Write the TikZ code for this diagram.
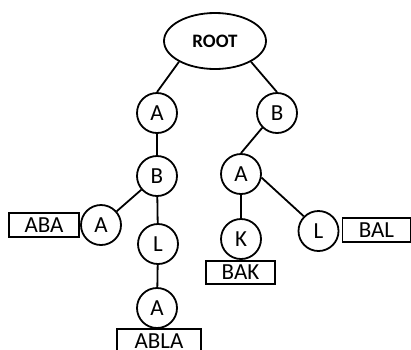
\documentclass[tikz,border=0pt]{standalone}
\usepackage{fontspec}
\setmainfont{Carlito}
\usetikzlibrary{shapes.geometric}
\begin{document}
\begin{tikzpicture}[x=1pt,y=-1pt,line width=1.8pt,
  letter/.style={circle,draw,minimum size=40pt,inner sep=0pt,font=\fontsize{23}{23}\selectfont},
  word/.style={rectangle,draw,inner sep=0pt,minimum height=24pt,font=\fontsize{23}{23}\selectfont},
  rootnode/.style={ellipse,draw,minimum width=102pt,minimum height=56pt,inner sep=0pt,font=\fontsize{19}{19}\selectfont\bfseries}]
\useasboundingbox (0,0) rectangle (411,349);
% trie nodes
\node[rootnode] (root) at (215,41) {ROOT};
\node[letter] (a1) at (157,113) {A};
\node[letter] (b1) at (277,113) {B};
\node[letter] (b2) at (157,176) {B};
\node[letter] (a2) at (241,174) {A};
\node[letter] (a3) at (101,225) {A};
\node[letter] (l1) at (158,244) {L};
\node[letter] (a4) at (157,308) {A};
\node[letter] (k) at (241,239) {K};
\node[letter] (l2) at (318.5,231) {L};
% stored words
\node[word,minimum width=70pt] (aba) at (44,225) {ABA};
\node[word,minimum width=69pt,minimum height=23pt] (bak) at (240.5,272.5) {BAK};
\node[word,minimum width=68pt] (bal) at (376.5,230) {BAL};
\node[word,minimum width=84pt] (abla) at (159,341) {ABLA};
% branches
\draw (root.210) -- (a1.north);
\draw (root.330) -- (b1.north);
\draw (a1) -- (b2);
\draw (b1.225) -- (a2.north);
\draw (b2) -- (a3);
\draw (b2) -- (l1);
\draw (l1) -- (a4);
\draw (a2) -- (k);
\draw (a2.-10) -- (l2.135);
\end{tikzpicture}
\end{document}
